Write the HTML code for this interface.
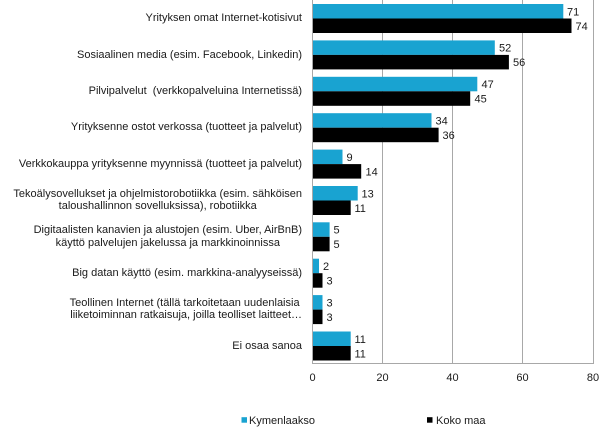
<!DOCTYPE html>
<html><head><meta charset="utf-8"><style>
html,body{margin:0;padding:0;background:#fff;}
body{width:609px;height:436px;position:relative;overflow:hidden;font-family:"Liberation Sans",Arial,sans-serif;color:#1a1a1a;}
.lbl{position:absolute;right:307px;text-align:center;font-size:11px;line-height:12.5px;white-space:nowrap;}
svg{position:absolute;left:0;top:0;}
svg text{font-family:"Liberation Sans",Arial,sans-serif;font-size:11px;fill:#1a1a1a;}
</style></head><body>
<svg width="609" height="436" viewBox="0 0 609 436">
<g stroke="#a8a8a8" stroke-width="1">
<line x1="382.5" y1="0" x2="382.5" y2="363"/>
<line x1="452.5" y1="0" x2="452.5" y2="363"/>
<line x1="522.5" y1="0" x2="522.5" y2="363"/>
<line x1="593.5" y1="0" x2="593.5" y2="363"/>
</g>
<g fill="#19a3d1">
<rect x="312" y="4" width="251.3" height="14.5"/>
<rect x="312" y="40.4" width="182.8" height="14.5"/>
<rect x="312" y="76.8" width="165.3" height="14.5"/>
<rect x="312" y="113.2" width="119.5" height="14.5"/>
<rect x="312" y="149.6" width="30.5" height="14.5"/>
<rect x="312" y="186" width="45.7" height="14.5"/>
<rect x="312" y="222.3" width="17.6" height="14.5"/>
<rect x="312" y="258.7" width="7" height="14.5"/>
<rect x="312" y="295.1" width="10.5" height="14.5"/>
<rect x="312" y="331.5" width="38.7" height="14.5"/>
</g>
<g fill="#000">
<rect x="312" y="18.5" width="259.5" height="14.5"/>
<rect x="312" y="54.9" width="196.9" height="14.5"/>
<rect x="312" y="91.3" width="158.2" height="14.5"/>
<rect x="312" y="127.7" width="126.6" height="14.5"/>
<rect x="312" y="164.1" width="49.2" height="14.5"/>
<rect x="312" y="200.5" width="38.7" height="14.5"/>
<rect x="312" y="236.8" width="17.6" height="14.5"/>
<rect x="312" y="273.2" width="10.5" height="14.5"/>
<rect x="312" y="309.6" width="10.5" height="14.5"/>
<rect x="312" y="346" width="38.7" height="14.5"/>
</g>
<g stroke="#a8a8a8" stroke-width="1">
<line x1="312.5" y1="0" x2="312.5" y2="363.5"/>
<line x1="312" y1="363.5" x2="594" y2="363.5"/>
</g>
<g>
<text x="567" y="15.3">71</text>
<text x="575.5" y="29.8">74</text>
<text x="499" y="51.7">52</text>
<text x="513" y="66.2">56</text>
<text x="481.5" y="88.1">47</text>
<text x="474.5" y="102.6">45</text>
<text x="435.5" y="124.5">34</text>
<text x="442.5" y="139">36</text>
<text x="346.5" y="160.9">9</text>
<text x="365.5" y="175.4">14</text>
<text x="361.5" y="197.3">13</text>
<text x="354.5" y="211.8">11</text>
<text x="333.5" y="233.6">5</text>
<text x="333.5" y="248.1">5</text>
<text x="323" y="270">2</text>
<text x="326.5" y="284.5">3</text>
<text x="326.5" y="306.4">3</text>
<text x="326.5" y="320.9">3</text>
<text x="354.5" y="342.8">11</text>
<text x="354.5" y="357.3">11</text>
</g>
<g text-anchor="middle">
<text x="312.5" y="381">0</text>
<text x="382.5" y="381">20</text>
<text x="452.5" y="381">40</text>
<text x="522.5" y="381">60</text>
<text x="593" y="381">80</text>
</g>
<rect x="241.5" y="417.2" width="5.5" height="5.5" fill="#19a3d1"/>
<text x="249" y="424">Kymenlaakso</text>
<rect x="427" y="417.2" width="5.5" height="5.5" fill="#000"/>
<text x="436" y="424">Koko maa</text>
</svg>
<div class="lbl" style="top:12.2px">Yrityksen omat Internet-kotisivut</div>
<div class="lbl" style="top:48.6px">Sosiaalinen media (esim. Facebook, Linkedin)</div>
<div class="lbl" style="top:85px">Pilvipalvelut &nbsp;(verkkopalveluina Internetissä)</div>
<div class="lbl" style="top:121.4px">Yrityksenne ostot verkossa (tuotteet ja palvelut)</div>
<div class="lbl" style="top:157.8px">Verkkokauppa yrityksenne myynnissä (tuotteet ja palvelut)</div>
<div class="lbl" style="top:187.5px">Tekoälysovellukset ja ohjelmistorobotiikka (esim. sähköisen<br>taloushallinnon sovelluksissa), robotiikka</div>
<div class="lbl" style="top:224px">Digitaalisten kanavien ja alustojen (esim. Uber, AirBnB)<br>käyttö palvelujen jakelussa ja markkinoinnissa</div>
<div class="lbl" style="top:266.9px">Big datan käyttö (esim. markkina-analyyseissä)</div>
<div class="lbl" style="top:296.8px">Teollinen Internet (tällä tarkoitetaan uudenlaisia<br>&nbsp;liiketoiminnan ratkaisuja, joilla teolliset laitteet…</div>
<div class="lbl" style="top:339.7px">Ei osaa sanoa</div>
</body></html>
